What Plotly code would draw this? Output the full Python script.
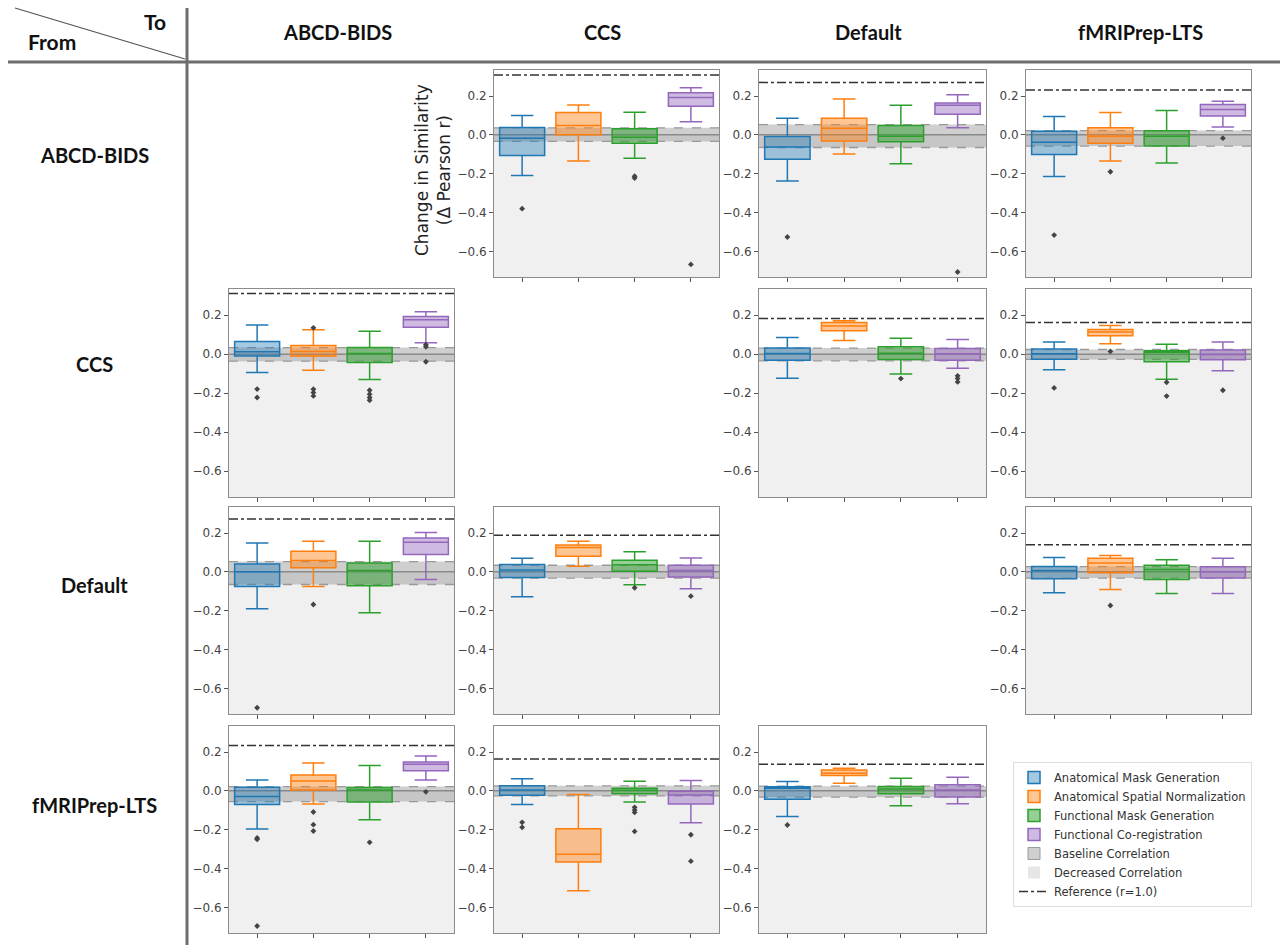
import plotly.graph_objects as go

# ---------------- data ----------------
PIPELINES = ["ABCD-BIDS", "CCS", "Default", "fMRIPrep-LTS"]
METHODS = ["Anatomical Mask Generation", "Anatomical Spatial Normalization",
           "Functional Mask Generation", "Functional Co-registration"]

# (from, to) for each non-empty panel
PANELS = [("ABCD-BIDS", "CCS"), ("ABCD-BIDS", "Default"), ("ABCD-BIDS", "fMRIPrep-LTS"),
          ("CCS", "ABCD-BIDS"), ("CCS", "Default"), ("CCS", "fMRIPrep-LTS"),
          ("Default", "ABCD-BIDS"), ("Default", "CCS"), ("Default", "fMRIPrep-LTS"),
          ("fMRIPrep-LTS", "ABCD-BIDS"), ("fMRIPrep-LTS", "CCS"), ("fMRIPrep-LTS", "Default")]

REF = [0.308, 0.27, 0.231, 0.311, 0.183, 0.162, 0.272, 0.188, 0.14, 0.234, 0.164, 0.137]
BAND_HI = [0.036, 0.053, 0.022, 0.034, 0.031, 0.024, 0.053, 0.034, 0.027, 0.022, 0.026, 0.024]
BAND_LO = [-0.034, -0.065, -0.058, -0.036, -0.034, -0.027, -0.065, -0.032, -0.032, -0.055, -0.026, -0.032]

WHISK_HI = [[0.10, 0.154, 0.116, 0.243], [0.085, 0.185, 0.152, 0.207], [0.094, 0.115, 0.125, 0.173],
            [0.149, 0.125, 0.118, 0.217], [0.085, 0.171, 0.082, 0.075], [0.063, 0.147, 0.051, 0.062],
            [0.149, 0.157, 0.157, 0.203], [0.07, 0.157, 0.103, 0.072], [0.074, 0.084, 0.062, 0.07],
            [0.056, 0.144, 0.13, 0.18], [0.062, -0.019, 0.05, 0.053], [0.048, 0.116, 0.065, 0.07]]
Q3 = [[0.038, 0.115, 0.031, 0.217], [-0.009, 0.085, 0.048, 0.164], [0.019, 0.036, 0.021, 0.156],
      [0.065, 0.044, 0.034, 0.193], [0.032, 0.162, 0.038, 0.029], [0.027, 0.126, 0.017, 0.022],
      [0.041, 0.106, 0.046, 0.174], [0.038, 0.138, 0.06, 0.034], [0.027, 0.07, 0.034, 0.026],
      [0.019, 0.082, 0.017, 0.149], [0.026, -0.195, 0.014, -0.002], [0.021, 0.108, 0.022, 0.031]]
MEDIAN = [[-0.017, 0.048, -0.012, 0.193], [-0.063, 0.034, -0.007, 0.152], [-0.038, -0.007, -0.007, 0.13],
          [0.012, 0.014, 0.003, 0.176], [0.003, 0.144, 0.005, 0.002], [0.002, 0.113, 0.01, -0.002],
          [0.0, 0.058, 0.007, 0.152], [0.01, 0.126, 0.036, 0.007], [0.007, 0.046, 0.012, 0.0],
          [-0.029, 0.051, 0.005, 0.137], [0.005, -0.326, 0.003, -0.021], [0.014, 0.091, 0.009, 0.005]]
Q1 = [[-0.106, 0.0, -0.043, 0.147], [-0.125, -0.031, -0.036, 0.106], [-0.101, -0.043, -0.058, 0.097],
      [-0.009, -0.01, -0.043, 0.138], [-0.031, 0.12, -0.027, -0.031], [-0.026, 0.094, -0.039, -0.029],
      [-0.075, 0.021, -0.072, 0.089], [-0.029, 0.08, 0.003, -0.026], [-0.036, -0.005, -0.039, -0.032],
      [-0.07, 0.005, -0.058, 0.103], [-0.022, -0.367, -0.015, -0.068], [-0.043, 0.079, -0.015, -0.032]]
WHISK_LO = [[-0.209, -0.135, -0.121, 0.067], [-0.238, -0.099, -0.149, 0.036], [-0.215, -0.135, -0.145, 0.041],
            [-0.094, -0.082, -0.13, 0.058], [-0.123, 0.07, -0.101, -0.072], [-0.08, 0.053, -0.128, -0.085],
            [-0.19, -0.075, -0.21, -0.039], [-0.128, 0.029, -0.067, -0.087], [-0.108, -0.091, -0.111, -0.111],
            [-0.197, -0.068, -0.149, 0.056], [-0.07, -0.515, -0.058, -0.164], [-0.132, 0.039, -0.077, -0.067]]
OUTLIERS = [
    [[-0.38], [], [-0.213, -0.222], [-0.667]],
    [[-0.526], [], [], [-0.706]],
    [[-0.516], [-0.19], [], [-0.017]],
    [[-0.179, -0.222], [0.135, -0.18, -0.197, -0.214], [-0.185, -0.205, -0.222, -0.236], [0.048, 0.038, -0.039]],
    [[], [], [-0.125], [-0.111, -0.125, -0.142]],
    [[-0.173], [0.014], [-0.144, -0.215], [-0.185]],
    [[-0.70], [-0.168], [], []],
    [[], [], [-0.082], [-0.125]],
    [[], [-0.173], [], []],
    [[-0.243, -0.25, -0.696], [-0.109, -0.174, -0.207], [-0.265], [-0.005]],
    [[-0.162, -0.188], [], [-0.085, -0.098, -0.111, -0.209], [-0.226, -0.362]],
    [[-0.176], [], [], []],
]
YTICKS = [-0.6, -0.4, -0.2, 0.0, 0.2]

# ---------------- style / layout ----------------
W, H = 1280, 945
COLORS = ["#1f77b4", "#ff7f0e", "#2ca02c", "#9467bd"]
FILLS = ["rgba(31,119,180,0.4)", "rgba(255,127,14,0.45)", "rgba(44,160,44,0.5)", "rgba(148,103,189,0.45)"]
COL_X = [(229, 454), (494, 719), (759, 986), (1026, 1251)]
ROW_Y = [(70, 277), (289, 497), (507, 714), (726, 933)]
YR = [-0.732, 0.334]
BAND_FILL = "rgba(140,140,140,0.42)"
DEC_FILL = "#f0f0f0"


def fx(p):
    return p / W


def fy(p):
    return 1 - p / H


fig = go.Figure()
shapes = []
annotations = []
layout_axes = {}

for k, (src, dst) in enumerate(PANELS):
    r = PIPELINES.index(src)
    c = PIPELINES.index(dst)
    n = k + 1
    xa = "x" if n == 1 else f"x{n}"
    ya = "y" if n == 1 else f"y{n}"
    xkey = "xaxis" if n == 1 else f"xaxis{n}"
    ykey = "yaxis" if n == 1 else f"yaxis{n}"
    layout_axes[xkey] = dict(
        domain=[fx(COL_X[c][0]), fx(COL_X[c][1])], anchor=ya, range=[-0.5, 3.5],
        tickvals=[0, 1, 2, 3], ticktext=["", "", "", ""], ticks="outside", ticklen=4,
        tickcolor="#555", showline=True, mirror=True, linecolor="#8c8c8c", linewidth=1,
        showgrid=False, zeroline=False, fixedrange=True)
    layout_axes[ykey] = dict(
        domain=[fy(ROW_Y[r][1]), fy(ROW_Y[r][0])], anchor=xa, range=YR,
        tickvals=YTICKS, tickformat=".1f", ticks="outside", ticklen=4, tickcolor="#555",
        tickfont=dict(family="DejaVu Sans", size=12, color="#444"),
        showline=True, mirror=True, linecolor="#8c8c8c", linewidth=1,
        showgrid=False, zeroline=False, fixedrange=True)

    xd = "x domain" if n == 1 else f"x{n} domain"
    # decreased-correlation region
    shapes.append(dict(type="rect", xref=xd, yref=ya, x0=0, x1=1, y0=YR[0], y1=0,
                       fillcolor=DEC_FILL, line=dict(width=0), layer="below"))
    # baseline band
    shapes.append(dict(type="rect", xref=xd, yref=ya, x0=0, x1=1, y0=BAND_LO[k], y1=BAND_HI[k],
                       fillcolor=BAND_FILL, line=dict(width=0), layer="below"))
    for yv in (BAND_LO[k], BAND_HI[k]):
        shapes.append(dict(type="line", xref=xd, yref=ya, x0=0, x1=1, y0=yv, y1=yv,
                           line=dict(color="#999", width=1.3, dash="dash"), layer="below"))
    shapes.append(dict(type="line", xref=xd, yref=ya, x0=0, x1=1, y0=0, y1=0,
                       line=dict(color="#8a8a8a", width=1.5), layer="below"))
    # reference line
    shapes.append(dict(type="line", xref=xd, yref=ya, x0=0, x1=1, y0=REF[k], y1=REF[k],
                       line=dict(color="#333", width=1.5, dash="dashdot"), layer="below"))

    for m in range(4):
        fig.add_trace(go.Box(
            x=[m], q1=[Q1[k][m]], median=[MEDIAN[k][m]], q3=[Q3[k][m]],
            lowerfence=[WHISK_LO[k][m]], upperfence=[WHISK_HI[k][m]],
            orientation="v", width=0.8, whiskerwidth=0.5, boxpoints=False,
            fillcolor=FILLS[m], line=dict(color=COLORS[m], width=1.5),
            name=METHODS[m], legendgroup=METHODS[m], showlegend=(k == 0),
            xaxis=xa, yaxis=ya, hoverinfo="skip"))
        if OUTLIERS[k][m]:
            fig.add_trace(go.Scatter(
                x=[m] * len(OUTLIERS[k][m]), y=OUTLIERS[k][m], mode="markers",
                marker=dict(symbol="diamond", size=4.5, color="#444"),
                showlegend=False, xaxis=xa, yaxis=ya, hoverinfo="skip"))

# legend-only helper traces
fig.add_trace(go.Bar(x=[None], y=[None], name="Baseline Correlation",
                     marker=dict(color=BAND_FILL, line=dict(color="#9a9a9a", width=1)),
                     xaxis="x", yaxis="y", hoverinfo="skip"))
fig.add_trace(go.Bar(x=[None], y=[None], name="Decreased Correlation",
                     marker=dict(color="#e6e6e6", line=dict(width=0)),
                     xaxis="x", yaxis="y", hoverinfo="skip"))
fig.add_trace(go.Scatter(x=[None], y=[None], mode="lines",
                         line=dict(color="#333", width=1.5, dash="dashdot"),
                         name="Reference (r=1.0)", xaxis="x", yaxis="y"))

# header structure
shapes.append(dict(type="line", xref="paper", yref="paper", x0=fx(8), x1=fx(1280), y0=fy(62), y1=fy(62),
                   line=dict(color="#6e6e6e", width=3)))
shapes.append(dict(type="line", xref="paper", yref="paper", x0=fx(187), x1=fx(187), y0=fy(8), y1=fy(945),
                   line=dict(color="#6e6e6e", width=3)))
shapes.append(dict(type="line", xref="paper", yref="paper", x0=fx(15), x1=fx(185), y0=fy(8), y1=fy(59),
                   line=dict(color="#555", width=1.3)))

HDR_FONT = dict(family="Lato, Open Sans, sans-serif", size=20, color="#111")


def ann(text, x, y, font, angle=0):
    return dict(text=text, x=fx(x), y=fy(y), xref="paper", yref="paper", showarrow=False,
                xanchor="center", yanchor="middle", textangle=angle, font=font)


annotations.append(ann("<b>To</b>", 155, 22, dict(HDR_FONT, size=21)))
annotations.append(ann("<b>From</b>", 52, 42, dict(HDR_FONT, size=21)))
COL_CX = [337, 602, 868, 1140]
ROW_CY = [155, 364, 585, 805]
for i, p in enumerate(PIPELINES):
    annotations.append(ann(f"<b>{p}</b>", COL_CX[i], 32, HDR_FONT))
    annotations.append(ann(f"<b>{p}</b>", 94, ROW_CY[i], HDR_FONT))

annotations.append(ann("Change in Similarity<br>(Δ Pearson r)", 433, 170,
                       dict(family="DejaVu Sans", size=17, color="#222"), angle=-90))

fig.update_layout(
    width=W, height=H, autosize=False,
    margin=dict(l=0, r=0, t=0, b=0),
    paper_bgcolor="white", plot_bgcolor="white",
    shapes=shapes, annotations=annotations,
    showlegend=True,
    legend=dict(x=fx(1013), y=fy(762), xanchor="left", yanchor="top",
                bgcolor="white", bordercolor="#dddddd", borderwidth=1,
                font=dict(family="DejaVu Sans", size=11.5, color="#333"),
                traceorder="normal", itemwidth=30, tracegroupgap=0),
    **layout_axes,
)

fig.write_html("out.html")
